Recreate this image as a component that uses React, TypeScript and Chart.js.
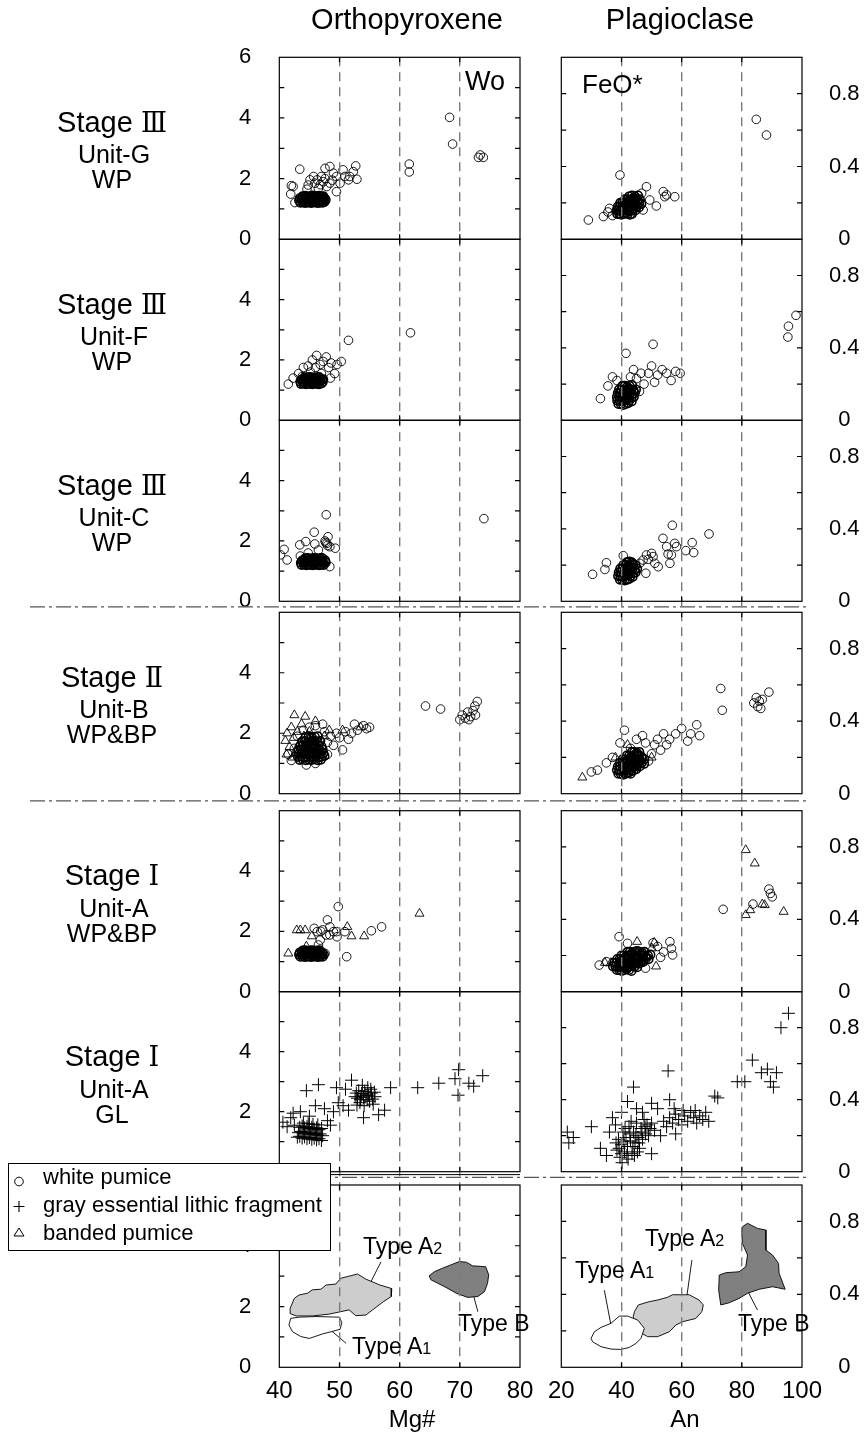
import React, { useEffect, useRef } from 'react';
import { Chart, registerables } from 'chart.js';
Chart.register(...registerables);

const FONT = "'Liberation Sans', Arial, Helvetica, sans-serif";
const NUM_FONT = "'DejaVu Serif', 'Noto Sans CJK JP', serif";
type P = [number, number];

// ---------------- axis ticks ----------------
const opxTicks = [40, 50, 60, 70, 80];
const plagTicks = [20, 40, 60, 80, 100];
const opxGuides = [50, 60, 70];
const plagGuides = [40, 60, 80];

// ---------------- Row 1: Stage III Unit-G WP ----------------
const gOpx: P[] = [[43.4,2.31],[42.0,1.77],[42.3,1.74],[41.9,1.49],[42.6,1.21],[44.8,1.79],[45.7,2.07],[46.3,1.96],[47.0,2.07],[47.6,2.34],[48.4,2.40],[49.0,2.18],[49.5,1.57],[50.1,1.85],[50.6,2.29],[50.9,2.07],[51.7,2.07],[52.3,2.23],[52.7,2.42],[52.9,1.98],[51.5,1.96],[47.9,1.74],[48.4,1.85],[46.5,1.68],[45.1,1.96],[45.9,1.85],[47.3,1.90],[49.5,2.07],[46.8,1.80],[48.8,1.95],[47.6,2.0],[44.6,1.65],[61.6,2.48],[61.6,2.22],[68.3,4.02],[68.8,3.14],[73.1,2.70],[73.9,2.70],[73.4,2.78]];
const gOpxCore: P[] = [[43.5,1.21],[43.9,1.22],[44.3,1.20],[44.6,1.22],[45.0,1.21],[45.4,1.20],[45.7,1.23],[46.1,1.21],[46.5,1.20],[46.8,1.22],[47.2,1.21],[47.5,1.23],[43.3,1.28],[43.7,1.29],[44.1,1.27],[44.4,1.28],[44.8,1.30],[45.2,1.28],[45.5,1.27],[45.9,1.29],[46.3,1.28],[46.6,1.30],[47.0,1.27],[47.4,1.28],[47.7,1.30],[43.4,1.35],[43.8,1.36],[44.2,1.34],[44.5,1.36],[44.9,1.35],[45.3,1.37],[45.6,1.34],[46.0,1.35],[46.4,1.36],[46.7,1.34],[47.1,1.35],[47.5,1.36],[43.9,1.42],[44.3,1.43],[44.7,1.41],[45.1,1.42],[45.5,1.44],[45.8,1.41],[46.2,1.42],[46.6,1.43],[47.0,1.41],[47.3,1.42]];
const gPlag: P[] = [[29.0,0.106],[34.0,0.125],[36.0,0.170],[39.5,0.353],[48.3,0.289],[53.9,0.262],[55.0,0.244],[54.4,0.234],[57.7,0.234],[51.6,0.183],[47.2,0.161],[49.4,0.216],[46.7,0.253],[35.5,0.15],[37.0,0.13],[84.8,0.659],[88.2,0.573]];
const gPlagCore: P[] = [[38.6,0.14],[39.3,0.14],[40.0,0.135],[40.7,0.14],[41.4,0.145],[42.1,0.14],[42.8,0.135],[43.5,0.14],[38.4,0.16],[39.1,0.16],[39.8,0.155],[40.5,0.16],[41.2,0.165],[41.9,0.16],[42.6,0.155],[43.3,0.16],[44.0,0.165],[44.7,0.16],[38.8,0.18],[39.5,0.18],[40.2,0.175],[40.9,0.18],[41.6,0.185],[42.3,0.18],[43.0,0.175],[43.7,0.18],[44.4,0.185],[45.1,0.18],[45.8,0.175],[39.6,0.20],[40.3,0.20],[41.0,0.195],[41.7,0.20],[42.4,0.205],[43.1,0.20],[43.8,0.195],[44.5,0.20],[45.2,0.205],[45.9,0.20],[46.6,0.195],[41.2,0.22],[41.9,0.22],[42.6,0.215],[43.3,0.22],[44.0,0.225],[44.7,0.22],[45.4,0.215],[46.1,0.22],[42.5,0.235],[43.5,0.24],[44.5,0.235],[45.5,0.24]];

// ---------------- Row 2: Stage III Unit-F WP ----------------
const fOpx: P[] = [[41.5,1.2],[42.3,1.4],[43.2,1.55],[44.0,1.75],[44.8,1.8],[45.5,2.0],[46.2,2.15],[46.8,1.85],[47.3,1.95],[47.8,2.1],[48.2,1.75],[48.6,1.9],[49.2,1.55],[49.6,1.85],[50.3,1.95],[45.2,1.6],[47.0,1.55],[43.8,1.45],[51.5,2.65],[61.8,2.9],[48.5,1.4],[46.0,1.75]];
const fOpxCore: P[] = [[43.6,1.21],[44.0,1.22],[44.4,1.20],[44.7,1.22],[45.1,1.21],[45.5,1.20],[45.8,1.23],[46.2,1.21],[46.6,1.20],[47.0,1.22],[43.5,1.28],[43.9,1.29],[44.2,1.27],[44.6,1.28],[45.0,1.30],[45.3,1.28],[45.7,1.27],[46.1,1.29],[46.4,1.28],[46.8,1.30],[47.2,1.27],[43.7,1.35],[44.1,1.36],[44.5,1.34],[44.8,1.36],[45.2,1.35],[45.6,1.37],[45.9,1.34],[46.3,1.35],[46.7,1.36],[47.1,1.34],[47.3,1.36],[44.2,1.42],[44.6,1.41],[45.0,1.43],[45.4,1.42],[45.8,1.41],[46.2,1.42],[46.6,1.43]];
const fPlag: P[] = [[33,0.12],[35.5,0.19],[37,0.24],[38.5,0.22],[41.5,0.37],[43,0.24],[45,0.23],[46.5,0.26],[47.5,0.2],[49,0.26],[50,0.3],[51,0.21],[52,0.25],[53.5,0.28],[55,0.26],[56.5,0.22],[58,0.27],[59.5,0.26],[50.5,0.42],[46,0.16],[44,0.28],[95.5,0.52],[95.3,0.46],[98.0,0.58]];
const fPlagCore: P[] = [[39.0,0.09],[39.8,0.09],[40.6,0.085],[41.4,0.09],[42.2,0.095],[38.6,0.11],[39.4,0.11],[40.2,0.105],[41.0,0.11],[41.8,0.115],[42.6,0.11],[43.4,0.105],[38.5,0.13],[39.3,0.13],[40.1,0.125],[40.9,0.13],[41.7,0.135],[42.5,0.13],[43.3,0.125],[44.1,0.13],[38.8,0.15],[39.6,0.15],[40.4,0.145],[41.2,0.15],[42.0,0.155],[42.8,0.15],[43.6,0.145],[44.4,0.15],[39.2,0.17],[40.0,0.17],[40.8,0.165],[41.6,0.17],[42.4,0.175],[43.2,0.17],[44.0,0.165],[44.8,0.17],[40.3,0.19],[41.1,0.19],[41.9,0.185],[42.7,0.19],[43.5,0.195]];

// ---------------- Row 3: Stage III Unit-C WP ----------------
const cOpx: P[] = [[40.2,1.54],[40.8,1.72],[41.3,1.37],[43.4,1.87],[44.4,1.98],[45.8,2.29],[45.9,1.90],[47.8,2.87],[48.1,2.14],[47.9,1.92],[48.4,1.81],[49.3,1.76],[48.4,1.15],[43.5,1.50],[47.6,2.0],[48.0,1.85],[47.7,1.95],[46.5,1.7],[44.8,1.6],[74.0,2.74]];
const cOpxCore: P[] = [[43.7,1.21],[44.1,1.22],[44.5,1.20],[44.8,1.22],[45.2,1.21],[45.6,1.20],[45.9,1.23],[46.3,1.21],[46.7,1.20],[47.0,1.22],[47.4,1.21],[43.6,1.28],[44.0,1.29],[44.3,1.27],[44.7,1.28],[45.1,1.30],[45.4,1.28],[45.8,1.27],[46.2,1.29],[46.5,1.28],[46.9,1.30],[47.3,1.27],[47.7,1.29],[43.8,1.35],[44.2,1.36],[44.6,1.34],[44.9,1.36],[45.3,1.35],[45.7,1.37],[46.0,1.34],[46.4,1.35],[46.8,1.36],[47.2,1.34],[47.6,1.36],[44.3,1.42],[44.7,1.43],[45.1,1.41],[45.5,1.42],[45.9,1.43],[46.3,1.41],[46.7,1.42],[47.1,1.43]];
const cPlag: P[] = [[30.4,0.149],[35.0,0.213],[34.5,0.176],[40.6,0.252],[56.9,0.420],[53.8,0.348],[55.0,0.302],[57.7,0.320],[58.3,0.302],[61.4,0.280],[63.5,0.324],[64.0,0.269],[69.1,0.372],[48.3,0.256],[50.0,0.265],[50.5,0.247],[48.9,0.232],[51.1,0.210],[52.2,0.191],[55.5,0.261],[56.1,0.210],[56.6,0.256],[48.1,0.155],[46.1,0.210],[47.2,0.228]];
const cPlagCore: P[] = [[39.5,0.12],[40.3,0.12],[41.1,0.115],[41.9,0.12],[42.7,0.125],[38.9,0.14],[39.7,0.14],[40.5,0.135],[41.3,0.14],[42.1,0.145],[42.9,0.14],[43.7,0.135],[39.1,0.16],[39.9,0.16],[40.7,0.155],[41.5,0.16],[42.3,0.165],[43.1,0.16],[43.9,0.155],[44.7,0.16],[39.6,0.18],[40.4,0.18],[41.2,0.175],[42.0,0.18],[42.8,0.185],[43.6,0.18],[44.4,0.175],[45.2,0.18],[40.6,0.20],[41.4,0.20],[42.2,0.195],[43.0,0.20],[43.8,0.205],[44.6,0.20],[41.8,0.215],[42.6,0.22],[43.4,0.215]];

// ---------------- Row 4: Stage II Unit-B WP&BP ----------------
const bOpxWP: P[] = [[42.0,1.1],[42.5,1.5],[43.0,1.9],[44.0,2.1],[45.0,2.2],[46.0,2.25],[47.5,2.05],[48.0,1.7],[48.5,1.9],[49.0,1.6],[49.5,2.0],[50.0,1.85],[50.5,1.45],[51.0,2.05],[52.0,2.0],[53.0,2.1],[54.0,2.25],[55.0,2.2],[52.5,2.3],[54.5,2.15],[44.5,0.95],[46.0,1.0],[48.0,1.3],[51.5,1.8],[47.2,2.3],[42.8,1.35],[41.5,1.3],[64.3,2.9],[66.8,2.8],[70.0,2.45],[70.4,2.6],[70.9,2.5],[71.3,2.7],[71.8,2.55],[72.2,2.75],[72.5,2.9],[72.9,3.05],[71.5,2.45],[72.6,2.6]];
const bOpxCore: P[] = [[43.4,1.12],[43.9,1.14],[44.4,1.11],[44.9,1.13],[45.4,1.12],[45.9,1.14],[46.4,1.11],[46.9,1.13],[43.1,1.22],[43.6,1.24],[44.1,1.21],[44.6,1.23],[45.1,1.25],[45.6,1.22],[46.1,1.24],[46.6,1.21],[47.1,1.23],[47.5,1.25],[43.3,1.33],[43.8,1.35],[44.3,1.32],[44.8,1.34],[45.3,1.36],[45.8,1.33],[46.3,1.35],[46.8,1.32],[47.3,1.34],[43.2,1.45],[43.7,1.47],[44.2,1.44],[44.7,1.46],[45.2,1.48],[45.7,1.45],[46.2,1.47],[46.7,1.44],[47.2,1.46],[43.5,1.58],[44.0,1.60],[44.5,1.57],[45.0,1.59],[45.5,1.61],[46.0,1.58],[46.5,1.60],[47.0,1.57],[43.8,1.72],[44.3,1.74],[44.8,1.71],[45.3,1.73],[45.8,1.75],[46.3,1.72],[46.8,1.74],[44.4,1.87],[44.9,1.89],[45.4,1.86],[45.9,1.88],[46.4,1.90]];
const bOpxBP: P[] = [[41.0,1.75],[41.3,2.0],[41.7,1.55],[42.0,2.2],[42.4,1.85],[42.7,1.35],[43.0,2.05],[43.3,1.65],[43.7,2.3],[44.1,1.9],[44.6,1.5],[45.0,2.05],[45.5,1.75],[46.0,2.4],[41.2,1.3],[42.2,1.2],[47.5,1.9],[48.3,2.1],[50.5,2.1],[53.5,2.2],[44.3,2.55],[42.5,2.6]];
const bPlagWP: P[] = [[30,0.12],[32,0.13],[35,0.17],[37,0.2],[39.5,0.28],[41,0.35],[43,0.25],[45,0.3],[48,0.28],[50,0.22],[51,0.27],[52,0.3],[53,0.24],[54,0.33],[55,0.27],[56,0.3],[58,0.33],[60,0.36],[62,0.29],[63,0.33],[65,0.38],[66,0.32],[49,0.18],[47,0.32],[73,0.58],[73.5,0.46],[84,0.5],[84.8,0.53],[85.3,0.48],[85.8,0.51],[86.3,0.47],[86.8,0.52],[89,0.56]];
const bPlagCore: P[] = [[39.0,0.11],[39.8,0.11],[40.6,0.105],[41.4,0.11],[42.2,0.115],[43.0,0.11],[38.5,0.13],[39.3,0.13],[40.1,0.125],[40.9,0.13],[41.7,0.135],[42.5,0.13],[43.3,0.125],[44.1,0.13],[44.9,0.135],[38.8,0.15],[39.6,0.15],[40.4,0.145],[41.2,0.15],[42.0,0.155],[42.8,0.15],[43.6,0.145],[44.4,0.15],[45.2,0.155],[46.0,0.15],[39.5,0.17],[40.3,0.17],[41.1,0.165],[41.9,0.17],[42.7,0.175],[43.5,0.17],[44.3,0.165],[45.1,0.17],[45.9,0.175],[46.7,0.17],[47.5,0.165],[40.4,0.19],[41.2,0.19],[42.0,0.185],[42.8,0.19],[43.6,0.195],[44.4,0.19],[45.2,0.185],[46.0,0.19],[46.8,0.195],[47.6,0.19],[41.8,0.21],[42.6,0.21],[43.4,0.205],[44.2,0.21],[45.0,0.215],[45.8,0.21],[46.6,0.205],[43.5,0.23],[44.3,0.23],[45.1,0.225],[45.9,0.23]];
const bPlagBP: P[] = [[27,0.09],[38,0.2],[42,0.27],[46,0.19],[50,0.2]];

// ---------------- Row 5: Stage I Unit-A WP&BP ----------------
const aOpxWP: P[] = [[49.8,2.82],[48.0,2.38],[45.8,2.10],[46.9,2.0],[48.4,2.15],[49.0,1.99],[47.8,1.88],[49.6,1.82],[51.2,1.16],[55.3,2.02],[57.0,2.15],[50.9,1.99],[47.6,1.27],[46.8,1.71],[46.3,1.99],[48.4,1.88],[49.5,1.99],[47.2,2.05],[46.5,1.55]];
const aOpxCore: P[] = [[43.5,1.16],[43.9,1.17],[44.3,1.15],[44.6,1.17],[45.0,1.16],[45.4,1.15],[45.7,1.18],[46.1,1.16],[46.5,1.15],[46.8,1.17],[47.2,1.16],[43.3,1.23],[43.7,1.24],[44.1,1.22],[44.4,1.23],[44.8,1.25],[45.2,1.23],[45.5,1.22],[45.9,1.24],[46.3,1.23],[46.6,1.25],[47.0,1.22],[47.4,1.23],[43.4,1.30],[43.8,1.31],[44.2,1.29],[44.5,1.31],[44.9,1.30],[45.3,1.32],[45.6,1.29],[46.0,1.30],[46.4,1.31],[46.7,1.29],[47.1,1.30],[43.9,1.36],[44.3,1.37],[44.7,1.35],[45.1,1.36],[45.5,1.37],[45.9,1.35],[46.3,1.36],[46.7,1.37]];
const aOpxBP: P[] = [[41.5,1.27],[42.9,2.04],[43.5,2.04],[44.3,2.04],[45.4,1.84],[51.3,2.15],[52.0,1.84],[54.1,1.84],[63.3,2.59],[44.5,1.5]];
const aPlagWP: P[] = [[39.2,0.304],[42.0,0.267],[56.1,0.276],[56.6,0.239],[57.0,0.203],[32.6,0.147],[35.0,0.166],[52,0.25],[54,0.22],[50.5,0.27],[53,0.19],[48,0.13],[73.8,0.455],[83.7,0.484],[89.0,0.567],[89.5,0.543],[90.1,0.524]];
const aPlagCore: P[] = [[38.5,0.12],[39.3,0.12],[40.1,0.115],[40.9,0.12],[41.7,0.125],[42.5,0.12],[43.3,0.115],[37.2,0.14],[38.0,0.14],[38.8,0.135],[39.6,0.14],[40.4,0.145],[41.2,0.14],[42.0,0.135],[42.8,0.14],[43.6,0.145],[44.4,0.14],[45.2,0.135],[37.6,0.16],[38.4,0.16],[39.2,0.155],[40.0,0.16],[40.8,0.165],[41.6,0.16],[42.4,0.155],[43.2,0.16],[44.0,0.165],[44.8,0.16],[45.6,0.155],[46.4,0.16],[47.2,0.165],[38.6,0.18],[39.4,0.18],[40.2,0.175],[41.0,0.18],[41.8,0.185],[42.6,0.18],[43.4,0.175],[44.2,0.18],[45.0,0.185],[45.8,0.18],[46.6,0.175],[47.4,0.18],[48.2,0.185],[49.0,0.18],[40.0,0.20],[40.8,0.20],[41.6,0.195],[42.4,0.20],[43.2,0.205],[44.0,0.20],[44.8,0.195],[45.6,0.20],[46.4,0.205],[47.2,0.20],[48.0,0.195],[48.8,0.20],[49.6,0.205],[42.0,0.22],[42.8,0.22],[43.6,0.215],[44.4,0.22],[45.2,0.225],[46.0,0.22],[46.8,0.215],[47.6,0.22]];
const aPlagBP: P[] = [[81.3,0.783],[84.3,0.709],[81.3,0.424],[82.8,0.451],[86.8,0.483],[87.6,0.479],[93.9,0.442],[45.2,0.276],[50.9,0.271],[50.1,0.24],[51.5,0.14],[36.5,0.16],[34.5,0.16]];

// ---------------- Row 6: Stage I Unit-A GL ----------------
const glOpx: P[] = [[40.6,1.65],[41.3,1.5],[41.9,1.8],[42.5,1.55],[42.3,1.95],[43.5,2.0],[45.0,1.85],[46.0,2.2],[47.5,2.1],[48.0,1.7],[49.0,2.0],[49.8,2.3],[50.6,2.2],[51.0,2.75],[51.5,2.05],[52.0,3.05],[49.5,2.8],[48.5,1.55],[44.5,2.7],[46.5,2.9],[56.5,1.9],[57.5,2.05],[58.5,2.8],[63,2.8],[66.5,2.95],[69.2,3.1],[69.8,3.4],[69.7,2.55],[71.5,2.95],[72.3,2.85],[73.8,3.2],[54,1.8]];
const glOpxCoreA: P[] = [[43.0,1.15],[43.4,1.18],[43.8,1.12],[44.2,1.16],[44.6,1.10],[45.0,1.14],[45.4,1.08],[45.8,1.12],[46.2,1.06],[46.6,1.10],[47.0,1.04],[43.2,1.30],[43.6,1.34],[44.0,1.28],[44.4,1.32],[44.8,1.26],[45.2,1.30],[45.6,1.24],[46.0,1.28],[46.4,1.22],[46.8,1.26],[47.2,1.20],[43.4,1.48],[43.8,1.52],[44.2,1.46],[44.6,1.50],[45.0,1.44],[45.4,1.48],[45.8,1.42],[46.2,1.46],[46.6,1.40],[47.0,1.44],[44.0,1.62],[44.8,1.60],[45.6,1.58],[46.4,1.56]];
const glOpxCoreB: P[] = [[52.6,2.50],[52.9,2.22],[53.2,2.70],[53.5,2.40],[53.8,2.88],[54.1,2.20],[54.4,2.55],[54.7,2.80],[55.0,2.35],[55.3,2.62],[55.6,2.25],[55.9,2.50],[53.7,2.60],[54.6,2.40],[53.0,2.45],[55.2,2.75],[53.4,2.30],[54.2,2.68],[55.5,2.42],[54.0,2.48],[52.8,2.62],[55.8,2.65],[54.8,2.55],[53.6,2.52]];
const glPlag: P[] = [[22,0.22],[22.5,0.16],[24,0.19],[30,0.25],[33,0.13],[35,0.09],[36,0.22],[37,0.3],[38,0.26],[40,0.33],[42,0.39],[44,0.47],[45,0.35],[47,0.33],[50,0.38],[52,0.35],[55.5,0.56],[56,0.4],[58,0.21],[71,0.42],[72,0.41],[50,0.1],[53,0.2],[78.5,0.5],[81,0.5],[83.5,0.62],[86.5,0.55],[88.5,0.57],[89.5,0.5],[91.5,0.55],[90.5,0.47],[93,0.8],[95.5,0.88]];
const glPlagCoreA: P[] = [[38.5,0.12],[39.0,0.18],[39.5,0.08],[40.0,0.15],[40.5,0.22],[41.0,0.11],[41.5,0.19],[42.0,0.14],[42.5,0.25],[43.0,0.17],[43.5,0.10],[44.0,0.22],[44.5,0.16],[45.0,0.27],[45.5,0.19],[46.0,0.13],[46.5,0.24],[47.0,0.18],[47.5,0.29],[48.0,0.21],[48.5,0.26],[49.0,0.2],[50.0,0.27],[51,0.23],[40.2,0.05],[42.2,0.07],[44.3,0.09],[39.2,0.13],[40.8,0.17],[41.8,0.09],[42.8,0.21],[43.8,0.14],[44.8,0.2],[45.8,0.16],[46.8,0.22],[47.8,0.25],[49.5,0.24],[41.2,0.24],[43.2,0.28],[38.2,0.16],[40.0,0.1],[45.3,0.11]];
const glPlagCoreB: P[] = [[54,0.28],[55,0.25],[56,0.3],[57,0.27],[58,0.32],[59,0.29],[60,0.26],[61,0.31],[62,0.28],[63,0.33],[64,0.3],[65,0.27],[66,0.31],[67,0.29],[68,0.33],[69,0.28],[57.5,0.35],[60.5,0.34],[64.5,0.34]];

// ---------------- Row 7: compositional fields ----------------
const opxTypeA1: P[] = [[41.9,1.61],[43.3,1.65],[46.1,1.67],[50.0,1.65],[50.4,1.47],[50.1,1.25],[48.6,1.17],[47.2,1.10],[45.0,0.95],[43.6,1.01],[42.2,1.17],[41.6,1.39]];
const opxTypeA2: P[] = [[41.9,1.76],[41.8,1.94],[42.5,2.27],[43.3,2.38],[44.7,2.44],[45.5,2.55],[46.9,2.57],[47.8,2.71],[49.4,2.74],[50.2,2.93],[51.4,2.99],[53.0,3.07],[54.4,2.90],[56.7,2.71],[58.7,2.59],[58.6,2.33],[57.3,2.16],[55.5,1.89],[54.4,1.72],[52.7,1.70],[51.6,1.89],[50.2,1.83],[48.3,1.75],[45.5,1.69],[42.8,1.69]];
const opxTypeB: P[] = [[64.9,3.01],[65.8,3.15],[67.1,3.26],[68.5,3.37],[69.9,3.48],[71.1,3.46],[72.1,3.34],[74.3,3.31],[74.8,3.04],[74.6,2.76],[74.1,2.49],[73.0,2.33],[71.3,2.30],[69.4,2.44],[67.7,2.63],[66.3,2.77],[65.2,2.88]];
const plagTypeA1: P[] = [[29.9,0.159],[31.0,0.195],[33.2,0.219],[36.5,0.241],[39.3,0.281],[42.0,0.281],[45.4,0.259],[47.6,0.214],[46.5,0.159],[44.8,0.131],[42.6,0.109],[39.8,0.098],[36.5,0.100],[33.2,0.113],[30.4,0.140]];
const plagTypeA2: P[] = [[44.3,0.305],[45.6,0.342],[49.2,0.360],[52.0,0.369],[55.3,0.384],[57.0,0.398],[62.5,0.398],[65.8,0.369],[67.2,0.342],[66.7,0.305],[64.7,0.268],[60.3,0.250],[58.1,0.232],[55.9,0.195],[52.0,0.168],[48.7,0.168],[45.9,0.195],[44.3,0.241],[43.9,0.278]];
const plagTypeB: P[] = [[80.2,0.771],[81.9,0.790],[85.2,0.762],[88.0,0.753],[88.0,0.643],[90.2,0.616],[92.2,0.570],[92.4,0.515],[94.4,0.428],[90.2,0.442],[85.8,0.428],[81.9,0.406],[79.1,0.378],[75.8,0.354],[73.0,0.342],[72.3,0.424],[72.5,0.506],[74.7,0.519],[79.1,0.524],[81.3,0.552],[81.9,0.616],[80.2,0.680],[80.0,0.735]];
const opxLeaders: P[][] = [[[54.8,2.65],[56.9,3.47]],[[72.1,2.49],[73.0,1.83]],[[48.2,1.28],[51.1,0.79]]];
const plagLeaders: P[][] = [[[36.5,0.232],[34.3,0.423]],[[61.4,0.351],[63.4,0.588]],[[81.9,0.42],[85.2,0.314]]];

// ---------------- layout (pixels) ----------------
const STACK = [
  { id: 'r0', h: 182 }, { id: 'r1', h: 181 }, { id: 'r2', h: 181 }, { id: 'g0', h: 11 },
  { id: 'r3', h: 181.4 }, { id: 'g1', h: 17 }, { id: 'r4', h: 181 }, { id: 'r5', h: 180 },
  { id: 'g2', h: 13.3 }, { id: 'r6', h: 182.3 },
];
const ROW_TOPS = [57.3, 239.3, 420.3, 612.3, 810.7, 991.7];
const ROW_LABELS = [
  ['Ⅲ', 'Unit-G', 'WP'], ['Ⅲ', 'Unit-F', 'WP'], ['Ⅲ', 'Unit-C', 'WP'],
  ['Ⅱ', 'Unit-B', 'WP&BP'], ['Ⅰ', 'Unit-A', 'WP&BP'], ['Ⅰ', 'Unit-A', 'GL'],
];

const pts = (a: P[]) => a.map(([x, y]) => ({ x, y }));
const circ = (a: P[], ax: string, bw = 0.9) => ({ data: pts(a), yAxisID: ax, xAxisID: 'x', showLine: false, pointStyle: 'circle', pointRadius: 4.3, borderWidth: bw, borderColor: '#000', backgroundColor: 'rgba(0,0,0,0)' });
const tri = (a: P[], ax: string) => ({ data: pts(a), yAxisID: ax, xAxisID: 'x', showLine: false, pointStyle: 'triangle', pointRadius: 5.2, borderWidth: 0.9, borderColor: '#000', backgroundColor: 'rgba(0,0,0,0)' });
const crs = (a: P[], ax: string) => ({ data: pts(a), yAxisID: ax, xAxisID: 'x', showLine: false, pointStyle: 'cross', pointRadius: 6.5, borderWidth: 1, borderColor: '#000', backgroundColor: 'rgba(0,0,0,0)' });
const poly = (a: P[], ax: string, fill: string) => ({ data: pts([...a, a[0]]), yAxisID: ax, xAxisID: 'x', showLine: true, fill: 'shape', tension: 0, pointRadius: 0, borderWidth: 0.9, borderColor: '#000', backgroundColor: fill });
const lead = (a: P[], ax: string) => ({ data: pts(a), yAxisID: ax, xAxisID: 'x', showLine: true, fill: false, tension: 0, pointRadius: 0, borderWidth: 0.9, borderColor: '#000' });

const framePlugin = {
  id: 'frames',
  afterDraw(chart: any) {
    const ctx = chart.ctx;
    const { left, right } = chart.chartArea;
    const xs = chart.scales.x;
    const xInner = xs.ticks.map((t: any) => t.value).filter((v: number) => v > xs.min && v < xs.max);
    ctx.save();
    ctx.strokeStyle = '#000';
    ctx.lineWidth = 1.2;
    Object.values(chart.scales).forEach((s: any) => {
      if (!s.id.startsWith('r')) return;
      ctx.strokeRect(left, s.top, right - left, s.bottom - s.top);
      ctx.beginPath();
      s.ticks.forEach((t: any) => {
        if (t.value <= s.min || t.value >= s.max) return;
        const y = s.getPixelForValue(t.value);
        ctx.moveTo(left, y); ctx.lineTo(left + 5, y);
        ctx.moveTo(right, y); ctx.lineTo(right - 5, y);
      });
      xInner.forEach((v: number) => {
        const x = xs.getPixelForValue(v);
        ctx.moveTo(x, s.top); ctx.lineTo(x, s.top + 5);
        ctx.moveTo(x, s.bottom); ctx.lineTo(x, s.bottom - 5);
      });
      ctx.stroke();
    });
    ctx.restore();
  },
};

function buildConfig(side: 'left' | 'right') {
  const isL = side === 'left';
  const scales: any = {
    x: {
      type: 'linear', position: 'bottom', min: isL ? 40 : 20, max: isL ? 80 : 100,
      afterBuildTicks: (s: any) => { s.ticks = (isL ? opxTicks : plagTicks).map((v) => ({ value: v })); },
      afterFit: (s: any) => { s.height = 66; },
      ticks: { autoSkip: false, maxRotation: 0, color: '#000', padding: 10, font: { family: FONT, size: 24 } },
      grid: {
        display: true, drawTicks: false, z: 1, lineWidth: 1.4,
        color: (c: any) => (c.tick && (isL ? opxGuides : plagGuides).includes(c.tick.value) ? '#7a7a7a' : 'rgba(0,0,0,0)'),
      },
      border: { display: false, dash: [9, 6] },
    },
  };
  STACK.forEach((item, k) => {
    const isRow = item.id.startsWith('r');
    const base: any = {
      type: 'linear', position: side, stack: 'col', stackWeight: item.h, weight: isL ? 100 - k : k,
      afterFit: (s: any) => { s.width = isL ? 49.3 : 65; },
      grid: { display: false, drawTicks: false }, border: { display: false },
    };
    if (!isRow) {
      scales[item.id] = { ...base, min: 0, max: 1, ticks: { display: false } };
      return;
    }
    const top = item.id === 'r0';
    scales[item.id] = {
      ...base, min: 0, max: isL ? 6 : 1,
      ticks: {
        stepSize: isL ? 1 : 0.2, autoSkip: false, color: '#000', font: { family: FONT, size: 22 },
        padding: isL ? 28 : 27, crossAlign: isL ? 'near' : 'center',
        callback: (v: number) => {
          if (isL) return v % 2 === 0 && (v < 6 || top) ? String(v) : '';
          const t = Math.round(v * 10);
          return t === 0 ? '0' : t === 4 ? '0.4' : t === 8 ? '0.8' : '';
        },
      },
    };
  });

  const CORE = 1.6;
  const datasets: any[] = isL
    ? [
        circ(gOpx, 'r0'), circ(gOpxCore, 'r0', CORE),
        circ(fOpx, 'r1'), circ(fOpxCore, 'r1', CORE),
        circ(cOpx, 'r2'), circ(cOpxCore, 'r2', CORE),
        circ(bOpxWP, 'r3'), circ(bOpxCore, 'r3', CORE), tri(bOpxBP, 'r3'),
        circ(aOpxWP, 'r4'), circ(aOpxCore, 'r4', CORE), tri(aOpxBP, 'r4'),
        crs([...glOpx, ...glOpxCoreA, ...glOpxCoreB], 'r5'),
        poly(opxTypeA1, 'r6', '#ffffff'), poly(opxTypeA2, 'r6', '#cdcdcd'), poly(opxTypeB, 'r6', '#808080'),
        ...opxLeaders.map((l) => lead(l, 'r6')),
      ]
    : [
        circ(gPlag, 'r0'), circ(gPlagCore, 'r0', CORE),
        circ(fPlag, 'r1'), circ(fPlagCore, 'r1', CORE),
        circ(cPlag, 'r2'), circ(cPlagCore, 'r2', CORE),
        circ(bPlagWP, 'r3'), circ(bPlagCore, 'r3', CORE), tri(bPlagBP, 'r3'),
        circ(aPlagWP, 'r4'), circ(aPlagCore, 'r4', CORE), tri(aPlagBP, 'r4'),
        crs([...glPlag, ...glPlagCoreA, ...glPlagCoreB], 'r5'),
        poly(plagTypeA1, 'r6', '#ffffff'), poly(plagTypeA2, 'r6', '#cdcdcd'), poly(plagTypeB, 'r6', '#808080'),
        ...plagLeaders.map((l) => lead(l, 'r6')),
      ];

  return {
    type: 'scatter' as const,
    data: { datasets },
    options: {
      responsive: false, animation: false as const, devicePixelRatio: 1, events: [] as any[],
      layout: isL
        ? { padding: { left: 230, right: 347, top: 57.3, bottom: 0.7 } }
        : { padding: { left: 561.3, right: 0, top: 57.3, bottom: 0.7 } },
      plugins: { legend: { display: false }, tooltip: { enabled: false }, title: { display: false } },
      scales,
    },
    plugins: [framePlugin],
  };
}

const Txt = ({ x, y, size, align = 'center', children }: any) => {
  const w = 400;
  return (
    <div style={{
      position: 'absolute', left: align === 'center' ? x - w / 2 : x, top: y - 0.8465 * size, width: w,
      textAlign: align, fontSize: size, lineHeight: 1, fontFamily: FONT, color: '#000', whiteSpace: 'nowrap',
    }}>{children}</div>
  );
};
const Sub = ({ children }: any) => <span style={{ fontSize: '70%' }}>{children}</span>;

export default function App() {
  const lRef = useRef<HTMLCanvasElement>(null);
  const rRef = useRef<HTMLCanvasElement>(null);
  useEffect(() => {
    const a = new Chart(lRef.current as HTMLCanvasElement, buildConfig('left') as any);
    const b = new Chart(rRef.current as HTMLCanvasElement, buildConfig('right') as any);
    return () => { a.destroy(); b.destroy(); };
  }, []);
  const cv: any = { position: 'absolute', left: 0, top: 0, width: 867, height: 1434 };
  const dashDot = { stroke: '#555', strokeWidth: 1.3, strokeDasharray: '15 4 3 4' };
  return (
    <div style={{ position: 'absolute', left: 0, top: 0, width: 867, height: 1434, background: '#fff', overflow: 'hidden', fontFamily: FONT }}>
      <canvas ref={lRef} width={867} height={1434} style={cv} />
      <canvas ref={rRef} width={867} height={1434} style={cv} />
      <svg width={867} height={1434} style={{ position: 'absolute', left: 0, top: 0, pointerEvents: 'none' }}>
        <line x1={30} x2={806} y1={606.8} y2={606.8} {...dashDot} />
        <line x1={30} x2={806} y1={800.8} y2={800.8} {...dashDot} />
        <line x1={30} x2={806} y1={1177.3} y2={1177.3} {...dashDot} />
        <line x1={279.3} x2={520} y1={1174.6} y2={1174.6} stroke="#000" strokeWidth={1} />
      </svg>
      <Txt x={407} y={30} size={29}>Orthopyroxene</Txt>
      <Txt x={680} y={30} size={29}>Plagioclase</Txt>
      <Txt x={465} y={90.7} size={27} align="left">Wo</Txt>
      <Txt x={582} y={93.3} size={26} align="left">FeO*</Txt>
      {ROW_LABELS.map((l, i) => (
        <React.Fragment key={i}>
          <Txt x={112} y={ROW_TOPS[i] + 75} size={29}>Stage <span style={{ fontFamily: NUM_FONT, fontSize: 27 }}>{l[0]}</span></Txt>
          <Txt x={114} y={ROW_TOPS[i] + 106} size={25}>{l[1]}</Txt>
          <Txt x={112} y={ROW_TOPS[i] + 131} size={25}>{l[2]}</Txt>
        </React.Fragment>
      ))}
      <Txt x={363} y={1254} size={23} align="left">Type A<Sub>2</Sub></Txt>
      <Txt x={458} y={1331} size={23} align="left">Type B</Txt>
      <Txt x={352} y={1354} size={23} align="left">Type A<Sub>1</Sub></Txt>
      <Txt x={575} y={1278} size={23} align="left">Type A<Sub>1</Sub></Txt>
      <Txt x={645} y={1246} size={23} align="left">Type A<Sub>2</Sub></Txt>
      <Txt x={738} y={1331.7} size={23} align="left">Type B</Txt>
      <Txt x={412} y={1427} size={24}>Mg#</Txt>
      <Txt x={685} y={1427} size={24}>An</Txt>
      <div style={{ position: 'absolute', left: 8, top: 1162.5, width: 321, height: 86, border: '1px solid #000', background: '#fff' }}>
        <svg width={30} height={86} style={{ position: 'absolute', left: 0, top: 0 }}>
          <circle cx={10} cy={17.5} r={4.3} fill="none" stroke="#000" strokeWidth={1} />
          <path d="M4.5 42.5 H15.5 M10 37 V48" stroke="#000" strokeWidth={1.1} />
          <path d="M10 64 L15 72 L5 72 Z" fill="none" stroke="#000" strokeWidth={1} />
        </svg>
      </div>
      <Txt x={43} y={1185} size={22} align="left">white pumice</Txt>
      <Txt x={43} y={1213} size={22} align="left">gray essential lithic fragment</Txt>
      <Txt x={43} y={1241} size={22} align="left">banded pumice</Txt>
    </div>
  );
}
